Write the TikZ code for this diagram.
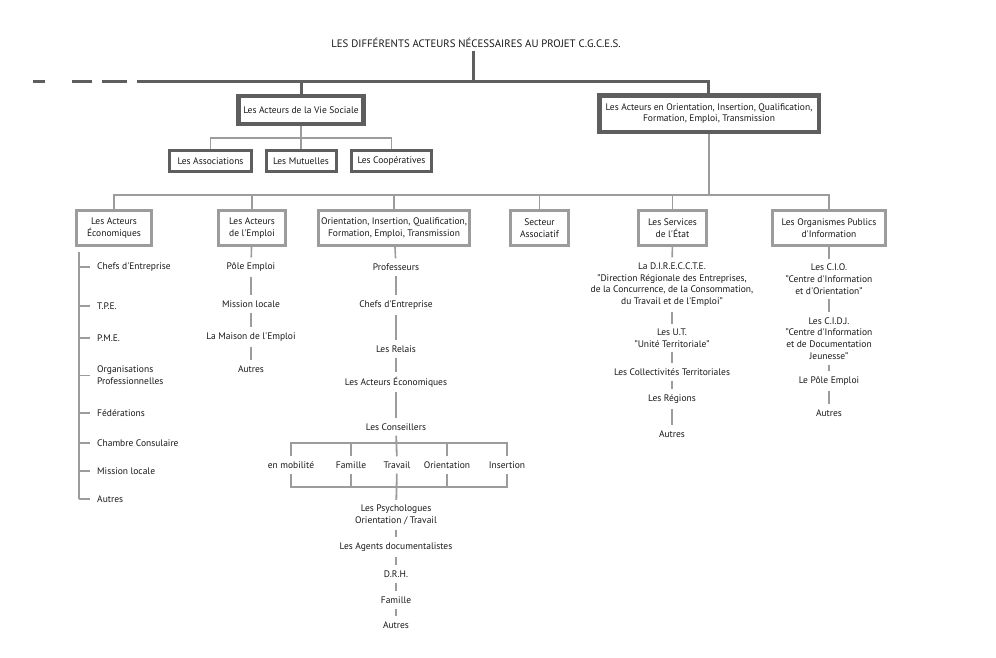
\documentclass[tikz,border=0pt]{standalone}
\usepackage{fontspec}
\setmainfont{PT Sans}
\newcommand\q{\textquotesingle}
\definecolor{txt}{HTML}{1A1718}
\definecolor{dk}{HTML}{5E5E5E}
\definecolor{lt}{HTML}{9C9C9C}
\begin{document}
\begin{tikzpicture}[x=1pt,y=-1pt,
  every node/.style={text=txt, font=\fontsize{9.5}{11.7}\selectfont, align=center},
  big/.style={draw=dk, line width=4.5pt, inner sep=1pt},
  subbox/.style={draw=dk, line width=3pt, inner sep=1pt, minimum height=21pt},
  lvl/.style={draw=lt, line width=3pt, inner xsep=3pt, inner ysep=1pt, minimum height=35pt},
  item/.style={inner xsep=2pt, inner ysep=5pt},
  litem/.style={anchor=west, inner xsep=0pt, inner ysep=3pt, align=left},
  main/.style={draw=dk, line width=3pt},
  ln/.style={draw=lt, line width=1.8pt},
  lnt/.style={draw=lt, line width=1.6pt}]
\useasboundingbox (0,0) rectangle (996,657);

% title and top level
\node (title) at (476,43) {\fontsize{10.8}{12}\selectfont LES DIFFÉRENTS ACTEURS NÉCESSAIRES AU PROJET C.G.C.E.S.};
\coordinate (j0) at (473,81);
\coordinate (hl) at (137,81);
\coordinate (hr) at (708,81);
\coordinate (d0) at (33,81);

\node[big, minimum width=125pt, minimum height=28pt] (vs) at (301,110) {Les Acteurs de la Vie Sociale};
\node[big, minimum width=219.5pt, minimum height=36.5pt] (oi) at (709,113.5) {Les Acteurs en Orientation, Insertion, Qualification,\\Formation, Emploi, Transmission};

\draw[main] (title.south -| j0) -- (j0);
\draw[main] (hl) -- (hr) -- (oi.north -| hr);
\draw[main] (vs.north |- hl) -- (vs.north);
\draw[main, dash pattern=on 12pt off 27pt on 20pt off 10pt on 25pt off 11pt] (d0) -- (hl);

% vie sociale children
\node[subbox, minimum width=82pt] (assoc) at (210.5,161) {Les Associations};
\node[subbox, minimum width=70pt] (mutu) at (301,161) {Les Mutuelles};
\node[subbox, minimum width=80pt] (coop) at (391.5,161) {Les Coopératives};
\coordinate (h1) at (303,138);
\draw[ln] (vs.south) -- (mutu.north);
\draw[ln] (assoc.north) -- (assoc.north |- h1) -- (coop.north |- h1) -- (coop.north);

% second level
\coordinate (h2) at (708,195);
\node[lvl, minimum width=75pt] (eco) at (114,228) {Les Acteurs\\Économiques};
\node[lvl, minimum width=67pt] (emp) at (252,228) {Les Acteurs\\de l\q Emploi};
\node[lvl, minimum width=150pt] (ori) at (394,228) {Orientation, Insertion, Qualification,\\Formation, Emploi, Transmission};
\node[lvl, minimum width=58pt] (sec) at (539.5,228) {Secteur\\Associatif};
\node[lvl, minimum width=68pt] (serv) at (672.5,228) {Les Services\\de l\q État};
\node[lvl, minimum width=113pt] (org) at (829,228) {Les Organismes Publics\\d\q Information};

\draw[ln] (oi.south) -- (oi.south |- h2);
\draw[ln] (eco.north) -- (eco.north |- h2) -- (org.north |- h2) -- (org.north);
\foreach \n in {emp,ori,sec,serv} \draw[ln] (\n.north |- h2) -- (\n.north);

% column 1
\node[litem] (c1a) at (97,267) {Chefs d\q Entreprise};
\node[litem] (c1b) at (97,306) {T.P.E.};
\node[litem] (c1c) at (97,338) {P.M.E.};
\node[litem] (c1d) at (97,375.5) {Organisations\\Professionnelles};
\node[litem] (c1e) at (97,413) {Fédérations};
\node[litem] (c1f) at (97,443) {Chambre Consulaire};
\node[litem] (c1g) at (97,471) {Mission locale};
\node[litem] (c1h) at (97,499) {Autres};
\coordinate (c1top) at (79,252);
\draw[lnt] (c1top) -- (c1h.west -| c1top);
\foreach \n in {c1a,c1b,c1c,c1d,c1e,c1f,c1g,c1h}
  \draw[lnt] (\n.west -| c1top) -- ([xshift=-7pt]\n.west);

% column 2
\node[item] (e1) at (251,267) {Pôle Emploi};
\node[item] (e2) at (251,304) {Mission locale};
\node[item] (e3) at (251,337) {La Maison de l\q Emploi};
\node[item] (e4) at (251,369) {Autres};
\draw[lnt] (emp) -- (e1);
\draw[lnt] (e1) -- (e2);
\draw[lnt] (e2) -- (e3);
\draw[lnt] (e3) -- (e4);

% column 3
\node[item] (o1) at (396,267) {Professeurs};
\node[item] (o2) at (396,305) {Chefs d\q Entreprise};
\node[item] (o3) at (396,349) {Les Relais};
\node[item] (o4) at (396,382) {Les Acteurs Économiques};
\node[item] (o5) at (396,427) {Les Conseillers};
\draw[lnt] (ori) -- (o1);
\draw[lnt] (o1) -- (o2);
\draw[lnt] (o2) -- (o3);
\draw[lnt] (o3) -- (o4);
\draw[lnt] (o4) -- (o5);

\node[item] (mob) at (291,465) {en mobilité};
\node[item] (fam) at (351,465) {Famille};
\node[item] (trav) at (397,465) {Travail};
\node[item] (ori2) at (447,465) {Orientation};
\node[item] (ins) at (507,465) {Insertion};
\coordinate (bt) at (396,443);
\coordinate (bb) at (396,487);
\draw[ln] (o5) -- (trav);
\draw[ln] (mob.north) -- (mob.north |- bt) -- (ins.north |- bt) -- (ins.north);
\draw[ln] (fam.north) -- (fam.north |- bt);
\draw[ln] (ori2.north) -- (ori2.north |- bt);
\draw[ln] (mob.south) -- (mob.south |- bb) -- (ins.south |- bb) -- (ins.south);
\draw[ln] (fam.south) -- (fam.south |- bb);
\draw[ln] (ori2.south) -- (ori2.south |- bb);

\node[item] (psy) at (396,515) {Les Psychologues\\Orientation / Travail};
\node[item] (agd) at (396,547) {Les Agents documentalistes};
\node[item] (drh) at (396,574) {D.R.H.};
\node[item] (fam2) at (396,600) {Famille};
\node[item] (aut) at (396,625) {Autres};
\draw[ln] (trav) -- (psy);
\draw[lnt] (psy) -- (agd);
\draw[lnt] (agd) -- (drh);
\draw[lnt] (drh) -- (fam2);
\draw[lnt] (fam2) -- (aut);

% column 5
\node[item] (s1) at (672,284.5) {La D.I.R.E.C.C.T.E.\\"Direction Régionale des Entreprises,\\de la Concurrence, de la Consommation,\\du Travail et de l\q Emploi"};
\node[item] (s2) at (672,338) {Les U.T.\\"Unité Territoriale"};
\node[item] (s3) at (672,372) {Les Collectivités Territoriales};
\node[item] (s4) at (672,399) {Les Régions};
\node[item] (s5) at (672,434) {Autres};
\draw[lnt] (serv) -- (s1);
\draw[lnt] (s1) -- (s2);
\draw[lnt] (s2) -- (s3);
\draw[lnt] (s3) -- (s4);
\draw[lnt] (s4) -- (s5);

% column 6
\node[item] (p1) at (829,279) {Les C.I.O.\\"Centre d\q Information\\et d\q Orientation"};
\node[item] (p2) at (829,338.5) {Les C.I.D.J.\\"Centre d\q Information\\et de Documentation\\Jeunesse"};
\node[item] (p3) at (829,381) {Le Pôle Emploi};
\node[item] (p4) at (829,413) {Autres};
\draw[lnt] (org) -- (p1);
\draw[lnt] (p1) -- (p2);
\draw[lnt] (p2) -- (p3);
\draw[lnt] (p3) -- (p4);
\end{tikzpicture}
\end{document}
